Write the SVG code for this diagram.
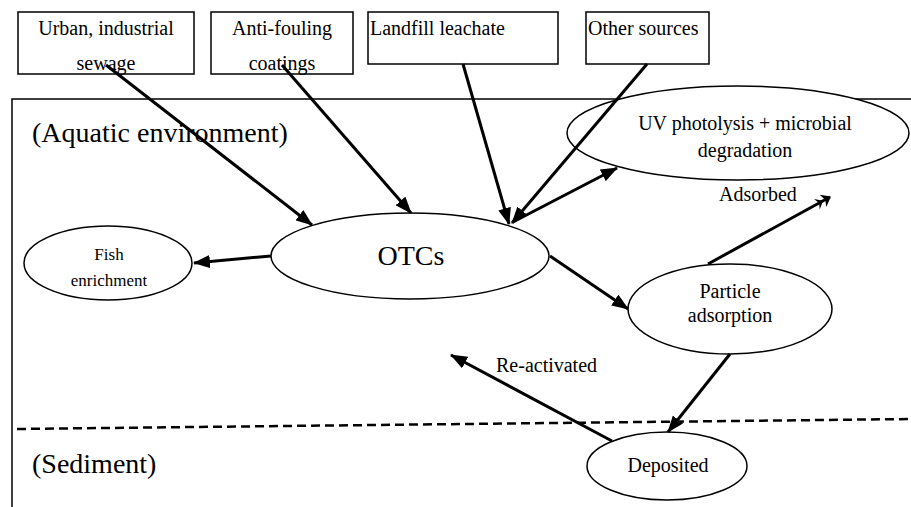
<svg xmlns="http://www.w3.org/2000/svg" width="911" height="507" viewBox="0 0 911 507" font-family="'Liberation Serif', 'Times New Roman', serif">
<defs>
<style>
.box{fill:#fff;stroke:#000;stroke-width:1.5}
.ell{fill:#fff;stroke:#000;stroke-width:1.5}
text{font-family:'Liberation Serif','Times New Roman',serif;fill:#000;font-size:20px}
.big{font-size:28px}
.c{stroke:#000;stroke-width:3;fill:none}
</style>
<marker id="ah" viewBox="0 0 17 13" refX="16" refY="6.5" markerWidth="17" markerHeight="13" markerUnits="userSpaceOnUse" orient="auto">
<path d="M0,0 L17,6.5 L0,13 Z" fill="#000"/>
</marker>
<marker id="dbl" viewBox="0 0 16 14" refX="15" refY="7" markerWidth="16" markerHeight="14" markerUnits="userSpaceOnUse" orient="auto">
<path d="M0,1 L7,7 L0,13 L2.5,7 Z M7,0 L16,7 L7,14 L9.5,7 Z" fill="#000"/>
</marker>
</defs>
<rect width="911" height="507" fill="#fff"/>
<g id="environment">
<path d="M12,507 L12,99 L911,99" fill="none" stroke="#000" stroke-width="1.5"/>
<text class="big" x="32" y="142">(Aquatic environment)</text>
</g>
<g id="sediment-boundary">
<line x1="17" y1="429" x2="911" y2="419" stroke="#000" stroke-width="2.5" stroke-dasharray="9,5"/>
<text class="big" x="32" y="473">(Sediment)</text>
</g>
<g id="src-urban">
<rect class="box" x="18" y="12" width="176" height="62"/>
<text x="106" y="35" text-anchor="middle">Urban, industrial</text>
<text x="106" y="70" text-anchor="middle">sewage</text>
</g>
<g id="src-antifouling">
<rect class="box" x="211" y="12" width="142" height="62"/>
<text x="282" y="35" text-anchor="middle">Anti-fouling</text>
<text x="282" y="70" text-anchor="middle">coatings</text>
</g>
<g id="src-landfill">
<rect class="box" x="368" y="12" width="190" height="52"/>
<text x="370" y="35">Landfill leachate</text>
</g>
<g id="src-other">
<rect class="box" x="586" y="12" width="123" height="52"/>
<text x="588" y="35">Other sources</text>
</g>
<g id="uv">
<ellipse class="ell" cx="738" cy="133" rx="171" ry="47"/>
<text x="745" y="130" text-anchor="middle">UV photolysis + microbial</text>
<text x="745" y="157" text-anchor="middle">degradation</text>
</g>
<g id="otcs">
<ellipse class="ell" cx="410" cy="256" rx="139" ry="43"/>
<text class="big" x="411" y="265" text-anchor="middle">OTCs</text>
</g>
<g id="fish">
<ellipse class="ell" cx="108" cy="263" rx="84" ry="37"/>
<text x="109" y="260" font-size="17" style="font-size:17px" text-anchor="middle">Fish</text>
<text x="109" y="286" font-size="17" style="font-size:17px" text-anchor="middle">enrichment</text>
</g>
<g id="particle">
<ellipse class="ell" cx="730" cy="309" rx="102" ry="45"/>
<text x="730" y="298" text-anchor="middle">Particle</text>
<text x="730" y="322" text-anchor="middle">adsorption</text>
</g>
<g id="deposited">
<ellipse class="ell" cx="667" cy="466" rx="80" ry="34"/>
<text x="668" y="472" text-anchor="middle">Deposited</text>
</g>
<g id="connectors">
<line class="c" x1="106" y1="65" x2="312" y2="225" marker-end="url(#ah)"/>
<line class="c" x1="282" y1="65" x2="411" y2="213" marker-end="url(#ah)"/>
<line class="c" x1="463" y1="64" x2="509" y2="224" marker-end="url(#ah)"/>
<line class="c" x1="647" y1="64" x2="512" y2="223" marker-end="url(#ah)"/>
<line class="c" x1="513" y1="222" x2="617" y2="168" marker-end="url(#ah)"/>
<line class="c" x1="271" y1="256" x2="194" y2="263" marker-end="url(#ah)"/>
<line class="c" x1="550" y1="256" x2="628" y2="309" marker-end="url(#ah)"/>
<line class="c" x1="708" y1="264" x2="830" y2="197" marker-end="url(#dbl)"/>
<line class="c" x1="730" y1="354" x2="668" y2="432" marker-end="url(#ah)"/>
<line class="c" x1="612" y1="441" x2="451" y2="355" marker-end="url(#ah)"/>
<text x="758" y="201" text-anchor="middle">Adsorbed</text>
<text x="496" y="372">Re-activated</text>
</g>
</svg>
